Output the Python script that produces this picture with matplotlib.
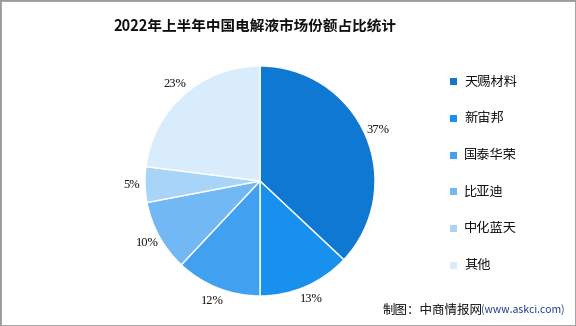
import matplotlib
matplotlib.use('Agg')
import matplotlib.pyplot as plt
from matplotlib.patches import Rectangle

plt.rcParams['font.family'] = ['Noto Sans CJK SC', 'DejaVu Sans']

companies = ['天赐材料', '新宙邦', '国泰华荣', '比亚迪', '中化蓝天', '其他']
shares = [37, 13, 12, 10, 5, 23]
colors = ['#0F78D2', '#1890EE', '#42A0F0', '#72B8F4', '#A8D4F8', '#D9ECFC']

W, H = 576, 326
fig = plt.figure(figsize=(W / 100, H / 100), dpi=100)

# pie area: centre (260, 181), radius 115 px
cx, cy, r = 260, 181, 115
ax = fig.add_axes([(cx - r) / W, (H - cy - r) / H, 2 * r / W, 2 * r / H])
wedges, texts, autotexts = ax.pie(
    shares, colors=colors, startangle=90, counterclock=False,
    autopct='%d%%', pctdistance=1.12, radius=1,
    wedgeprops=dict(edgecolor='white', linewidth=1))
for t in autotexts:
    t.set_fontfamily('Liberation Serif')
    t.set_fontsize(9)
    t.set_color('#111111')
ax.set_xlim(-1, 1)
ax.set_ylim(-1, 1)
ax.set_aspect('equal')
ax.axis('off')

fig.text(255 / W, 1 - 27 / H, '2022年上半年中国电解液市场份额占比统计',
         ha='center', va='center', fontsize=10.5, fontweight='bold', color='#111111')

# legend
for i, (name, c) in enumerate(zip(companies, colors)):
    y = 82 + 36.6 * i
    fig.patches.append(Rectangle((450 / W, 1 - (y + 3.5) / H), 7 / W, 7 / H,
                                 transform=fig.transFigure, facecolor=c, edgecolor='none'))
    fig.text(464 / W, 1 - y / H, name, ha='left', va='center', fontsize=9.5, color='#111111')

# source
fig.text(383 / W, 1 - 310 / H, '制图：中商情报网', ha='left', va='center',
         fontsize=9, color='#111111')
fig.text(481 / W, 1 - 310 / H, '(www.askci.com)', ha='left', va='center',
         fontsize=7.5, color='#1F3F8F')

fig.patches.append(Rectangle((0, 0), 1, 1, transform=fig.transFigure,
                             facecolor='none', edgecolor='#9A9A9A', linewidth=2))

fig.savefig('out.png', dpi=100)
